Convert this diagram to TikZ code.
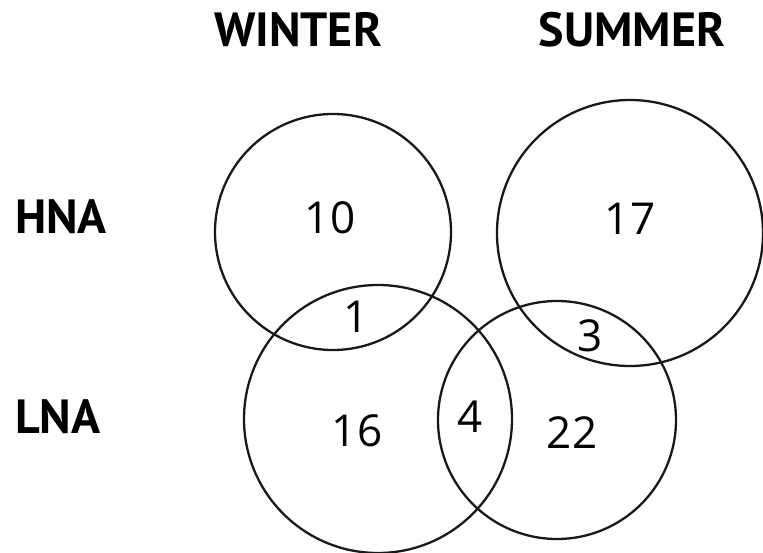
\documentclass[tikz,border=0pt]{standalone}
\usepackage{fontspec}
\setmainfont{PT Sans}
\newfontfamily\cifras{Open Sans}
\begin{document}
\begin{tikzpicture}[x=1pt, y=-1pt,
    conjunto/.style={line width=2.3pt, black!90},
    titulo/.style={font=\fontsize{48}{48}\selectfont\bfseries, inner sep=0pt},
    cifra/.style={font=\fontsize{44}{44}\cifras, inner sep=0pt}]
        \useasboundingbox (0,0) rectangle (763,553);
        % Titulos
        \node[titulo] (winter) at (298,30) {WINTER};
        \node[titulo] (summer) at (632,30) {SUMMER};
        \node[titulo, right] (hna) at (15,217) {HNA};
        \node[titulo, right] (lna) at (15,417) {LNA};
        % Conjuntos
        \draw[conjunto] (333,232) circle (118pt);
        \draw[conjunto] (630,233) circle (133pt);
        \draw[conjunto] (378,419) circle (134pt);
        \draw[conjunto] (557,420) circle (119pt);
        % Cantidades
        \node[cifra] (n10) at (330,218) {10};
        \node[cifra] (n17) at (630,219) {17};
        \node[cifra] (n1) at (356,317) {1};
        \node[cifra] (n3) at (590,336) {3};
        \node[cifra] (n4) at (470,417) {4};
        \node[cifra] (n16) at (357,431) {16};
        \node[cifra] (n22) at (572,433) {22};
    \end{tikzpicture}
\end{document}
